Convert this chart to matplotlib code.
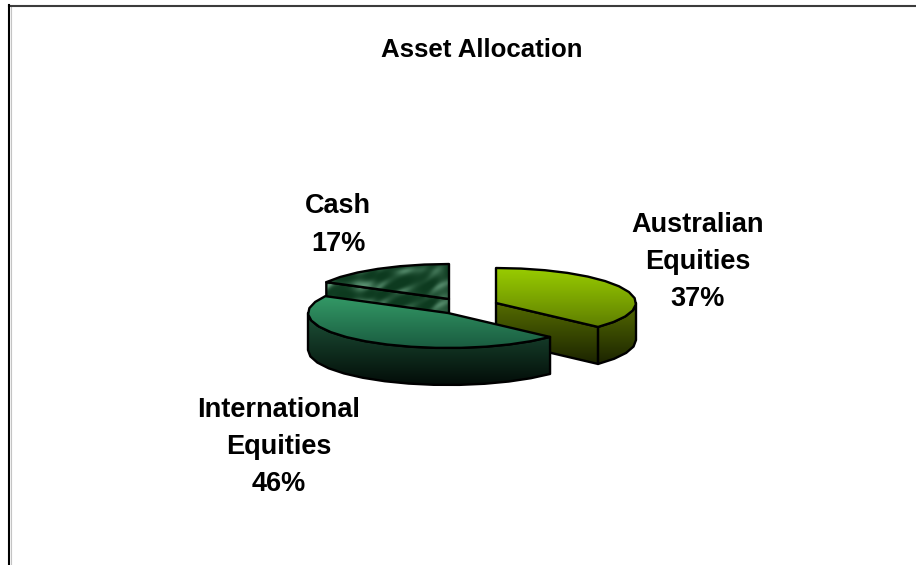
import numpy as np
import matplotlib
matplotlib.use('Agg')
import matplotlib.pyplot as plt
from matplotlib.patches import Polygon

labels = ['Australian\nEquities\n37%', 'International\nEquities\n46%', 'Cash\n17%']
shares = [37, 46, 17]

# pixel layout of the pie
radius_x = 140
radius_y = 35
depth = 37
apexes = [(496, 303), (448, 313), (449, 299)]
label_pos = [(698, 262), (279, 447), (338, 225)]

top_cols = [('#99cc00', '#5f7f00'), ('#339966', '#1a5c40'), None]
side_cols = [('#546b00', '#1c2400'), ('#1d5238', '#030d08'), None]


def blend(c1, c2, n):
    a = np.array(matplotlib.colors.to_rgb(c1))
    b = np.array(matplotlib.colors.to_rgb(c2))
    t = np.linspace(0, 1, n)[:, None, None]
    return (a[None, None, :] * (1 - t) + b[None, None, :] * t)


def rim(apex, t1, t2, step=10):
    # faceted arc, angles clockwise from twelve o'clock
    n = max(int((t2 - t1) / step), 2) + 1
    t = np.radians(np.linspace(t1, t2, n))
    return np.column_stack([apex[0] + radius_x * np.sin(t),
                            apex[1] - radius_y * np.cos(t)])


def marble(h, w):
    # mottled fill of the cash slice
    y, x = np.mgrid[0:h, 0:w]
    v = (np.sin(x / 9.3 + 3.1 * np.sin(y / 7.1 + x / 31.0))
         + np.sin(y / 6.3 + 2.7 * np.sin(x / 13.0 + y / 17.0))
         + 0.45 * np.sin((x + 1.7 * y) / 4.7 + 2.1 * np.sin(x / 8.3)))
    v = (v - v.min()) / (v.max() - v.min())
    dark = np.array(matplotlib.colors.to_rgb('#0d3a1f'))
    light = np.array(matplotlib.colors.to_rgb('#5f9676'))
    return dark + (light - dark) * (v[:, :, None] ** 2.6)


def fill(ax, pts, cols, lw=1.7):
    pts = np.asarray(pts)
    x0, x1 = pts[:, 0].min(), pts[:, 0].max()
    y0, y1 = pts[:, 1].min(), pts[:, 1].max()
    if cols is None:
        img = marble(int(y1 - y0) + 1, int(x1 - x0) + 1)
    else:
        img = blend(cols[0], cols[1], 64)
    im = ax.imshow(img, extent=(x0, x1, y1, y0), aspect='auto', zorder=2,
                   interpolation='bilinear')
    patch = Polygon(pts, closed=True, facecolor='none', edgecolor='black',
                    linewidth=lw, joinstyle='round', zorder=2)
    ax.add_patch(patch)
    im.set_clip_path(patch)
    return patch


def draw_slice(ax, i, t1, t2):
    apex = np.array(apexes[i], dtype=float)
    drop = np.array([0, depth])
    arc = rim(apex, t1, t2)
    # cut faces, only those turned to the viewer
    if np.sin(np.radians(t1)) < -1e-6:
        fill(ax, [apex, arc[0], arc[0] + drop, apex + drop], side_cols[i])
    if np.sin(np.radians(t2)) > 1e-6:
        fill(ax, [apex, arc[-1], arc[-1] + drop, apex + drop], side_cols[i])
    # outer wall
    lo, hi = max(t1, 90), min(t2, 270)
    if hi > lo:
        wall = rim(apex, lo, hi)
        fill(ax, np.vstack([wall, (wall + drop)[::-1]]), side_cols[i])
    fill(ax, np.vstack([apex, arc]), top_cols[i])


fig = plt.figure(figsize=(9.16, 5.65), dpi=100)
ax = fig.add_axes([0, 0, 1, 1])
ax.set_xlim(0, 916)
ax.set_ylim(565, 0)
ax.axis('off')

# chart frame, only top and left are in the crop
ax.plot([10.5, 10.5], [7, 565], color='#c4c4c4', lw=0.8, zorder=1)
ax.plot([916, 8.7], [5.7, 5.7], color='#3c3c3c', lw=1.5, zorder=1)
ax.plot([8.7, 8.7], [5, 565], color='black', lw=1.5, zorder=1)

ends = np.cumsum(shares) / np.sum(shares) * 360
starts = np.concatenate([[0], ends[:-1]])
for i in [2, 0, 1]:
    draw_slice(ax, i, starts[i], ends[i])

plt.rcParams['font.family'] = ['Liberation Sans', 'DejaVu Sans']
ax.text(482, 50, 'Asset Allocation', ha='center', va='center', fontsize=18.6,
        fontweight='bold')
for lab, pos in zip(labels, label_pos):
    ax.text(pos[0], pos[1], lab, ha='center', va='center', fontsize=19.5,
            fontweight='bold', linespacing=1.56)

plt.savefig('out.png', dpi=100)
